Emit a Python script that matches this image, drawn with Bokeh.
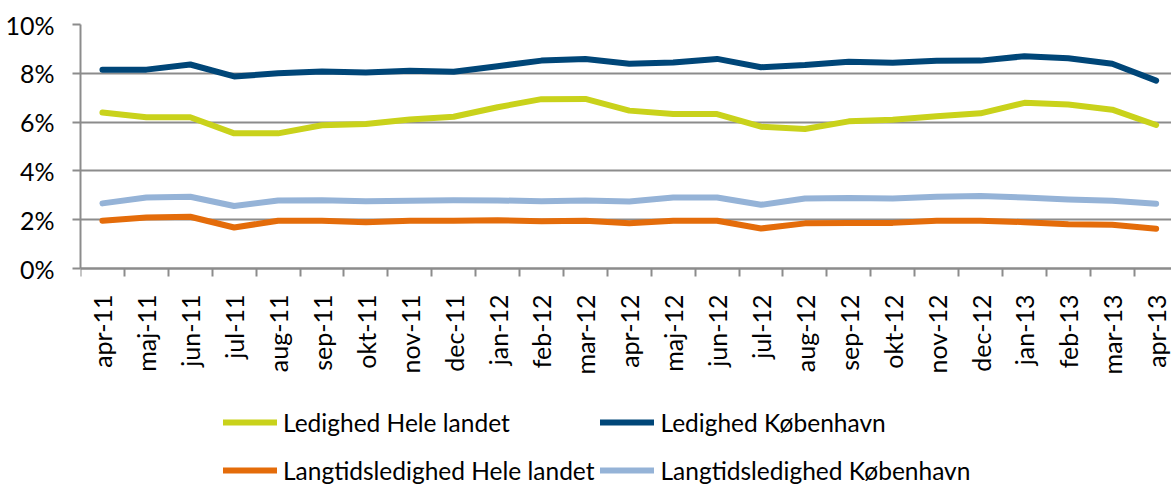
import math
from bokeh.plotting import figure
from bokeh.models import (FixedTicker, Legend, LegendItem, Range1d, LinearAxis,
                          PrintfTickFormatter, ColumnDataSource)
from bokeh.embed import file_html
from bokeh.resources import INLINE

months = ["apr-11", "maj-11", "jun-11", "jul-11", "aug-11", "sep-11", "okt-11",
          "nov-11", "dec-11", "jan-12", "feb-12", "mar-12", "apr-12", "maj-12",
          "jun-12", "jul-12", "aug-12", "sep-12", "okt-12", "nov-12", "dec-12",
          "jan-13", "feb-13", "mar-13", "apr-13"]

ledighed_hele = [6.39, 6.20, 6.20, 5.54, 5.54, 5.87, 5.92, 6.11, 6.22, 6.61, 6.94, 6.95,
                 6.47, 6.33, 6.33, 5.81, 5.72, 6.03, 6.10, 6.24, 6.36, 6.79, 6.72, 6.51, 5.88]
ledighed_kbh = [8.15, 8.15, 8.36, 7.87, 8.00, 8.07, 8.03, 8.10, 8.06, 8.29, 8.52, 8.59,
                8.39, 8.44, 8.59, 8.25, 8.34, 8.47, 8.43, 8.51, 8.52, 8.70, 8.62, 8.39, 7.70]
langtid_hele = [1.96, 2.09, 2.12, 1.68, 1.96, 1.96, 1.90, 1.96, 1.96, 1.98, 1.94, 1.96,
                1.85, 1.96, 1.96, 1.64, 1.85, 1.87, 1.87, 1.96, 1.96, 1.90, 1.81, 1.79, 1.63]
langtid_kbh = [2.67, 2.91, 2.94, 2.56, 2.79, 2.80, 2.76, 2.78, 2.80, 2.79, 2.76, 2.79,
               2.75, 2.91, 2.91, 2.61, 2.87, 2.89, 2.87, 2.94, 2.97, 2.91, 2.83, 2.78, 2.65]

y_ticks = [0, 2, 4, 6, 8, 10]

FONT = "Lato"
GRID = "#8c8c8c"

idx = list(range(len(months)))
src = ColumnDataSource(dict(x=idx, lh=ledighed_hele, lk=ledighed_kbh,
                            th=langtid_hele, tk=langtid_kbh))

# frame spans down to the bottom of the canvas so the legend below the
# x axis stays inside it; the x axis is drawn at value 0
p = figure(width=1171, height=485, output_backend="svg", toolbar_location=None,
           x_range=Range1d(-0.5, 24.35), y_range=Range1d(-8.893, 10),
           x_axis_location=None,
           min_border_left=80, min_border_right=0, min_border_top=24,
           min_border_bottom=0)
p.outline_line_color = None
p.background_fill_color = "white"
p.border_fill_color = "white"

r1 = p.line("x", "lh", source=src, line_color="#c9d21b", line_width=6,
            line_cap="round", line_join="round")
r2 = p.line("x", "lk", source=src, line_color="#004678", line_width=6,
            line_cap="round", line_join="round")
r3 = p.line("x", "th", source=src, line_color="#e46c0a", line_width=6,
            line_cap="round", line_join="round")
r4 = p.line("x", "tk", source=src, line_color="#95b3d7", line_width=6,
            line_cap="round", line_join="round")

# x axis at 0%
xax = LinearAxis(fixed_location=0)
xax.ticker = FixedTicker(ticks=idx, minor_ticks=[i - 0.5 for i in range(len(months) + 1)])
xax.major_label_overrides = {i: m for i, m in enumerate(months)}
xax.major_label_orientation = math.pi / 2
xax.major_tick_out = 0
xax.major_tick_in = 0
xax.minor_tick_out = 8
xax.minor_tick_in = 0
xax.minor_tick_line_color = GRID
xax.minor_tick_line_width = 2
xax.axis_line_color = GRID
xax.axis_line_width = 2
xax.major_label_standoff = 18
xax.major_label_text_font = FONT
xax.major_label_text_font_size = "25px"
xax.major_label_text_color = "black"
p.add_layout(xax, "below")

# y axis
p.yaxis.ticker = FixedTicker(ticks=y_ticks)
p.yaxis.bounds = (y_ticks[0], y_ticks[-1])
p.yaxis.formatter = PrintfTickFormatter(format="%d%%")
p.yaxis.major_tick_out = 8
p.yaxis.major_tick_in = 0
p.yaxis.minor_tick_out = 0
p.yaxis.minor_tick_in = 0
p.yaxis.major_tick_line_color = GRID
p.yaxis.major_tick_line_width = 2
p.yaxis.axis_line_color = GRID
p.yaxis.axis_line_width = 2
p.yaxis.major_label_standoff = 18
p.yaxis.major_label_text_font = FONT
p.yaxis.major_label_text_font_size = "25px"
p.yaxis.major_label_text_color = "black"

p.xgrid.grid_line_color = None
p.ygrid.ticker = FixedTicker(ticks=y_ticks)
p.ygrid.grid_line_color = GRID
p.ygrid.grid_line_width = 2

legend = Legend(
    items=[LegendItem(label="Ledighed Hele landet", renderers=[r1]),
           LegendItem(label="Langtidsledighed Hele landet", renderers=[r3]),
           LegendItem(label="Ledighed København", renderers=[r2]),
           LegendItem(label="Langtidsledighed København", renderers=[r4])],
    ncols=2, location=(143, -6),
    glyph_width=54, glyph_height=42, label_height=42, label_width=311,
    label_standoff=6, spacing=6, padding=0, margin=0,
    border_line_alpha=0, background_fill_alpha=0,
    label_text_font=FONT, label_text_font_size="24.5px",
    label_text_color="black")
p.add_layout(legend, "center")

open("out.html", "w").write(file_html(p, INLINE))
